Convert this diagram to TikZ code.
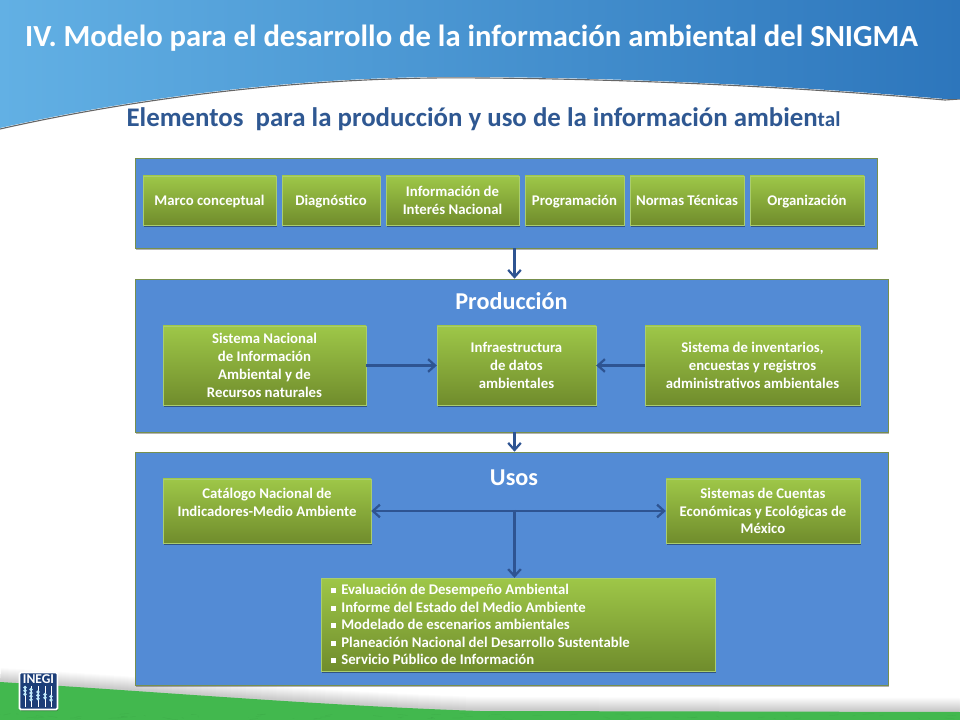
\documentclass[tikz,border=0pt]{standalone}
\usepackage{fontspec}
\setmainfont{Carlito}
\usetikzlibrary{arrows.meta,shadows}

\definecolor{azulpanel}{RGB}{83,139,213}
\definecolor{azulflecha}{RGB}{46,84,146}
\definecolor{azultitulo}{RGB}{47,88,146}
\definecolor{verdearriba}{RGB}{158,199,72}
\definecolor{verdeabajo}{RGB}{112,140,44}
\definecolor{verdeborde}{RGB}{170,205,110}
\definecolor{verdepie}{RGB}{66,184,78}
\definecolor{cieloclaro}{RGB}{98,176,228}
\definecolor{cielomedio}{RGB}{50,126,194}
\definecolor{cielooscuro}{RGB}{45,118,188}
\definecolor{azullogo}{RGB}{28,62,120}

\def\px{0.025cm}

\tikzset{
	panelbox/.style 2 args={rectangle,inner sep=0pt,minimum width=#1*\px,minimum height=#2*\px,fill=azulpanel,draw=verdeborde!70!black,line width=0.5pt,general shadow={fill=black,opacity=0.3,shadow xshift=1pt,shadow yshift=-1.4pt}},
	greenbox/.style 2 args={rectangle,inner sep=0pt,minimum width=#1*\px,minimum height=#2*\px,top color=verdearriba,bottom color=verdeabajo,draw=verdeborde,line width=0.3pt,text=white,align=center,font=\fontsize{10.5}{12.7}\selectfont\bfseries,general shadow={fill=black,opacity=0.4,shadow xshift=1pt,shadow yshift=-1.2pt}},
	flecha/.style={azulflecha,line width=1.6pt,-{Straight Barb[length=5pt,width=9pt]}},
	flechas/.style={azulflecha,line width=1.6pt,{Straight Barb[length=5pt,width=9pt]}-{Straight Barb[length=5pt,width=9pt]}},
	cabecera/.style={white,font=\fontsize{21.8}{26}\selectfont\bfseries},
	rotulo/.style={white,font=\fontsize{17.2}{20}\selectfont\bfseries}
}

\newcommand{\vineta}{\rule[0.18ex]{0.34em}{0.34em}\hspace{0.34em}}
\newcommand{\linea}{\rule[-2pt]{0pt}{11.8pt}}

\begin{document}
\begin{tikzpicture}[x=\px,y=-\px]
	\useasboundingbox (0,0) rectangle (960,720);
	\fill[white] (0,0) rectangle (960,720);

	% encabezado
	\draw[black!60,line width=0.8pt] (0,129) .. controls (160,93) and (330,76) .. (480,78) .. controls (650,79) and (820,89) .. (945,100) -- (960,99);
	\shade[left color=cieloclaro,middle color=cielomedio,right color=cielooscuro] (0,0) -- (960,0) -- (960,99) -- (945,99) .. controls (820,88) and (650,78) .. (480,77) .. controls (330,75) and (160,92) .. (0,128) -- cycle;

	% pie
	\foreach \k in {2,...,14}{
		\draw[black,opacity=0.017,line width=\k*2*\px] (0,682) .. controls (160,692) and (330,706) .. (480,711) -- (960,712);
	}
	\fill[verdepie] (0,682) .. controls (160,692) and (330,706) .. (480,711) -- (960,712) -- (960,720) -- (0,720) -- cycle;
	\pgfmathsetseed{7}
	\foreach \k in {1,...,70}{
		\pgfmathsetmacro{\xa}{rnd*960}
		\pgfmathsetmacro{\ya}{714+rnd*5}
		\draw[verdepie!85!black,opacity=0.35,line width=0.2pt] (\xa,\ya) -- ++({rnd*24-12},{rnd*3-1.5});
	}

	\draw (471.5,38) node (titulo) [cabecera] {IV. Modelo para el desarrollo de la información ambiental del SNIGMA};
	\draw (483.5,119) node (subtitulo) [azultitulo,font=\fontsize{19.1}{22}\selectfont\bfseries] {Elementos\ \ para la producción y uso de la información ambien{\fontsize{15}{22}\selectfont tal}};

	% paneles
	\draw (506,203) node (elementos) [panelbox={742}{90}] {};
	\draw (511.5,355.5) node (produccion) [panelbox={753}{153}] {};
	\draw (511.5,568.5) node (usos) [panelbox={753}{233}] {};

	\draw (511.5,301) node (tproduccion) [rotulo] {Producción};
	\draw (514,478) node (tusos) [rotulo] {Usos};

	% elementos
	\draw (209.5,200.5) node (marco) [greenbox={133}{49}] {\linea Marco conceptual};
	\draw (331,200.5) node (diagnostico) [greenbox={98}{49}] {\linea Diagnóstico};
	\draw (452.5,200.5) node (interes) [greenbox={133}{49}] {Información de\\Interés Nacional};
	\draw (574.5,200.5) node (programacion) [greenbox={99}{49}] {\linea Programación};
	\draw (687,200.5) node (normas) [greenbox={114}{49}] {\linea Normas Técnicas};
	\draw (807,200.5) node (organizacion) [greenbox={114}{49}] {\linea Organización};

	% produccion
	\draw (264.5,365.5) node (sistema) [greenbox={203}{79}] {Sistema Nacional\\de Información\\Ambiental y de\\Recursos naturales};
	\draw (516.5,365.5) node (infra) [greenbox={159}{79}] {Infraestructura\\de datos\\ambientales};
	\draw (752.5,365.5) node (inventarios) [greenbox={215}{79}] {Sistema de inventarios,\\encuestas y registros\\administrativos ambientales};

	% usos
	\draw (267,511) node (catalogo) [greenbox={208}{64}] {Catálogo Nacional de\\Indicadores-Medio Ambiente\\\ };
	\draw (763,511) node (cuentas) [greenbox={194}{64}] {Sistemas de Cuentas\\Económicas y Ecológicas de\\México};
	\draw (518,624.5) node (aplicaciones) [greenbox={394}{93}] {};
	\draw (331,624.5) node (lista) [anchor=west,inner sep=0pt,text=white,align=left,font=\fontsize{10.5}{12.45}\selectfont\bfseries] {\vineta Evaluación de Desempeño Ambiental\\\vineta Informe del Estado del Medio Ambiente\\\vineta Modelado de escenarios ambientales\\\vineta Planeación Nacional del Desarrollo Sustentable\\\vineta Servicio Público de Información};

	\coordinate (cruce) at (514.5,510);

	\draw[flecha] (elementos.south -| cruce) -- (produccion.north -| cruce);
	\draw[flecha] (produccion.south -| cruce) -- (usos.north -| cruce);
	\draw[flecha] (sistema) -- (infra);
	\draw[flecha] (inventarios) -- (infra);
	\draw[flechas] (catalogo) -- (cuentas);
	\draw[flecha] (cruce) -- (aplicaciones.north -| cruce);

	% logo
	\draw (38.5,691) node (logo) [rectangle,rounded corners=1pt,inner sep=0pt,minimum width=38*\px,minimum height=37*\px,fill=azullogo,draw=white,line width=1.2pt,general shadow={fill=black,opacity=0.35,shadow xshift=0.5pt,shadow yshift=-1.2pt}] {};
	\draw (38.5,679.5) node (inegi) [white,inner sep=0pt,font=\fontsize{9.6}{10}\selectfont\bfseries] {INEGI};
	\foreach \x/\n in {25/3,31/4,38/3,45/2,51/2}{
		\draw[white,line width=0.5pt] (\x,686) -- (\x,707);
		\foreach \k in {1,...,\n}{
			\fill[white!75!cyan] (\x,{684+3.4*\k+(\x-25)*0.35}) circle (1.9);
		}
	}
\end{tikzpicture}
\end{document}
